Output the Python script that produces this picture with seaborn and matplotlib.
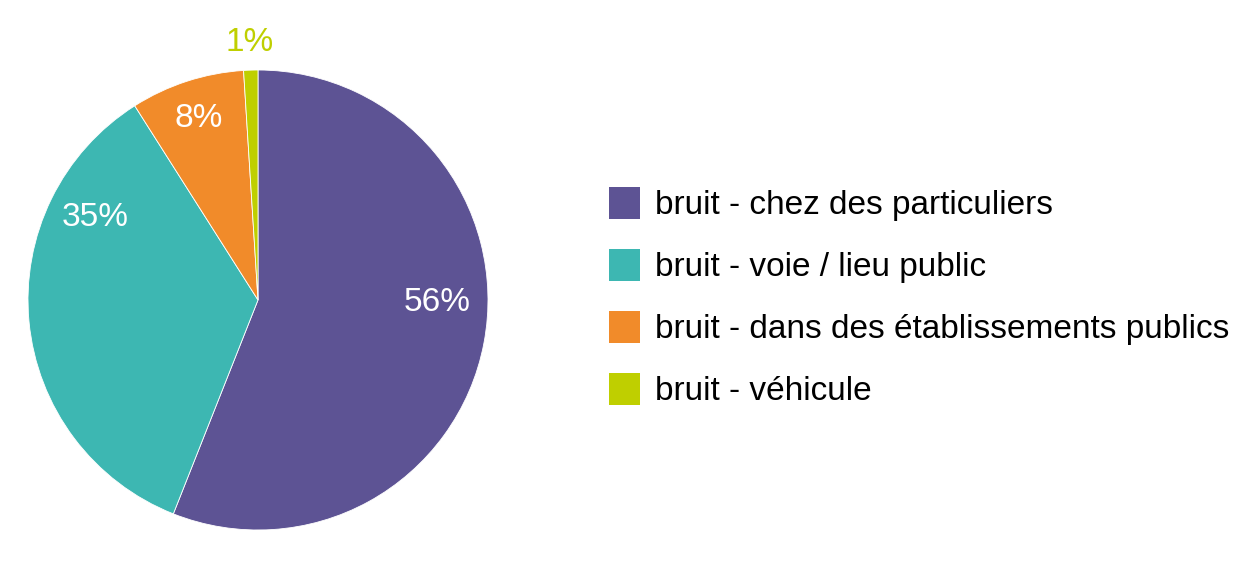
import matplotlib.pyplot as plt
import seaborn as sns
from matplotlib.patches import Patch

categories = [
    "bruit - chez des particuliers",
    "bruit - voie / lieu public",
    "bruit - dans des établissements publics",
    "bruit - véhicule",
]
shares = [56, 35, 8, 1]
pct_labels = ["56%", "35%", "8%", "1%"]
hex_colors = ["#5D5394", "#3DB7B2", "#F18B2A", "#BFCF00"]

# where the excel-style labels sit (in pie radius units)
label_pos = [(0.78, -0.01), (-0.71, 0.36), (-0.26, 0.79), (-0.035, 1.12)]
label_colors = ["white", "white", "white", "#BFCF00"]

sns.set_theme(style="white")
plt.rcParams["font.family"] = ["Liberation Sans", "DejaVu Sans"]
plt.rcParams["text.color"] = "black"

palette = sns.color_palette(hex_colors)

fig = plt.figure(figsize=(12.37, 5.62), dpi=100)
ax = fig.add_axes([28 / 1237, 32 / 562, 460 / 1237, 460 / 562])

wedges, _ = ax.pie(
    shares,
    colors=palette,
    startangle=90,
    counterclock=False,
    wedgeprops={"edgecolor": "white", "linewidth": 0.6},
)
ax.set_xlim(-1, 1)
ax.set_ylim(-1, 1)
ax.set_aspect("equal")
ax.axis("off")

for txt, (x, y), c in zip(pct_labels, label_pos, label_colors):
    ax.text(x, y, txt, ha="center", va="center", fontsize=24, color=c, clip_on=False)

handles = [Patch(facecolor=c, edgecolor="none") for c in palette]
fig.legend(
    handles,
    categories,
    loc="center left",
    bbox_to_anchor=(609 / 1237, 1 - 297 / 562),
    frameon=False,
    fontsize=24,
    labelcolor="black",
    handlelength=0.93,
    handleheight=1.1,
    handletextpad=0.45,
    labelspacing=0.83,
    borderpad=0,
    borderaxespad=0,
)

fig.savefig("out.png", dpi=100, facecolor="white")
